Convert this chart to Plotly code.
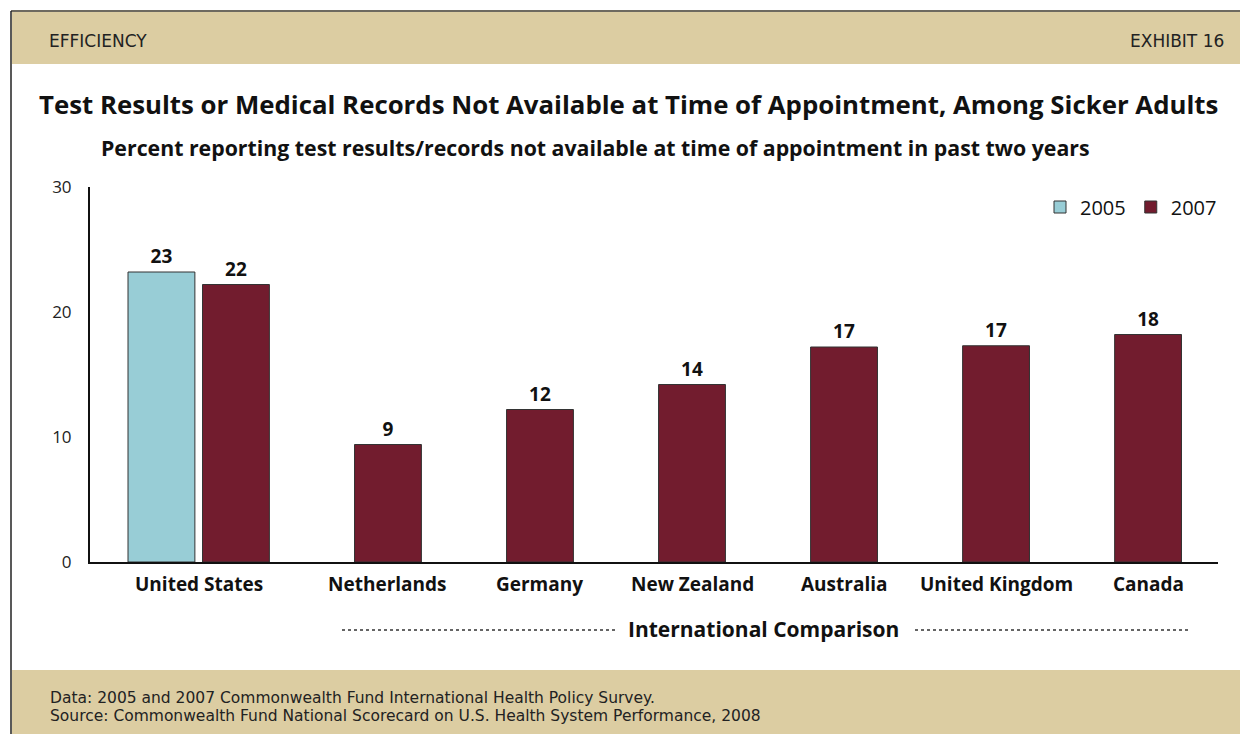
import plotly.graph_objects as go

# chart data
countries = ["United States", "Netherlands", "Germany", "New Zealand",
             "Australia", "United Kingdom", "Canada"]
values_2007 = [22.2, 9.4, 12.2, 14.2, 17.2, 17.3, 18.2]
us_2005 = [23.2]
y_ticks = [0, 10, 20, 30]

# the page puts the figure 8px in from the corner, so lay out in
# screen pixels and shift back by that amount
OFF = 8
W, H = 1248 - OFF, 734 - OFF
L, R, T, B = 90, 1218, 187, 562   # plot area, screen pixels
BLUE = "#98cdd6"
MAROON = "#721c2e"
TAN = "#dccda2"
FONT = "Open Sans"


def px(x):
    return (x - L) / (R - L)


def py(y):
    return (B - y) / (B - T)


label_font = dict(family=FONT, size=19, color="#111", weight="bold")

fig = go.Figure()
fig.add_trace(go.Bar(
    x=countries[:1], y=us_2005, name="2005",
    marker=dict(color=BLUE, line=dict(color="#333", width=1)),
    width=0.44, offset=-0.71,
    texttemplate="%{y:.0f}", textposition="outside",
    textfont=label_font, cliponaxis=False,
))
fig.add_trace(go.Bar(
    x=countries, y=values_2007, name="2007",
    marker=dict(color=MAROON, line=dict(color="#333", width=1)),
    width=0.44, offset=-0.22,
    texttemplate="%{y:.0f}", textposition="outside",
    textfont=label_font, cliponaxis=False,
))

shapes = [
    # header and footer bands
    dict(type="rect", xref="paper", yref="paper", layer="below",
         x0=px(12), x1=px(1260), y0=py(64), y1=py(12),
         fillcolor=TAN, line=dict(width=0)),
    dict(type="rect", xref="paper", yref="paper", layer="below",
         x0=px(12), x1=px(1260), y0=py(745), y1=py(670),
         fillcolor=TAN, line=dict(width=0)),
    # frame lines
    dict(type="line", xref="paper", yref="paper",
         x0=px(11), x1=px(1260), y0=py(11), y1=py(11),
         line=dict(color="#6e6a60", width=2)),
    dict(type="line", xref="paper", yref="paper",
         x0=px(11), x1=px(11), y0=py(11), y1=py(745),
         line=dict(color="#222", width=1.5)),
    # dotted bracket
    dict(type="line", xref="paper", yref="paper",
         x0=px(342), x1=px(617), y0=py(630), y1=py(630),
         line=dict(color="#333", width=1.5, dash="dot")),
    dict(type="line", xref="paper", yref="paper",
         x0=px(915), x1=px(1190), y0=py(630), y1=py(630),
         line=dict(color="#333", width=1.5, dash="dot")),
]

annotations = [
    dict(text="EFFICIENCY", x=px(47), y=py(41), xanchor="left",
         font=dict(family="DejaVu Sans", size=17, color="#222")),
    dict(text="EXHIBIT 16", x=px(1226), y=py(41), xanchor="right",
         font=dict(family="DejaVu Sans", size=17, color="#222")),
    dict(text="Test Results or Medical Records Not Available at Time of Appointment, Among Sicker Adults",
         x=px(628), y=py(104), xanchor="center",
         font=dict(family=FONT, size=25.8, color="#111", weight="bold")),
    dict(text="Percent reporting test results/records not available at time of appointment in past two years",
         x=px(595), y=py(147), xanchor="center",
         font=dict(family=FONT, size=21.3, color="#111", weight="bold")),
    dict(text="International Comparison", x=px(764), y=py(629), xanchor="center",
         font=dict(family=FONT, size=21, color="#111", weight="bold")),
    dict(text="Data: 2005 and 2007 Commonwealth Fund International Health Policy Survey.",
         x=px(48), y=py(698), xanchor="left",
         font=dict(family="DejaVu Sans", size=15.5, color="#222")),
    dict(text="Source: Commonwealth Fund National Scorecard on U.S. Health System Performance, 2008",
         x=px(48), y=py(716), xanchor="left",
         font=dict(family="DejaVu Sans", size=15.5, color="#222")),
]
for i, c in enumerate(countries):
    annotations.append(dict(
        text=c, x=c, xref="x", y=py(584), xanchor="center",
        xshift=-37 if i == 0 else 0, font=label_font,
    ))
for a in annotations:
    a.setdefault("xref", "paper")
    a.setdefault("yref", "paper")
    a.setdefault("yanchor", "middle")
    a["showarrow"] = False

fig.update_layout(
    width=W, height=H,
    margin=dict(l=L - OFF, r=W - (R - OFF), t=T - OFF, b=H - (B - OFF), pad=0),
    paper_bgcolor="white", plot_bgcolor="white",
    barmode="overlay",
    showlegend=True,
    legend=dict(orientation="h", x=px(1222), xanchor="right", y=py(207),
                yanchor="middle", font=dict(family=FONT, size=20, color="#111"),
                itemwidth=30, bgcolor="rgba(0,0,0,0)"),
    xaxis=dict(range=[-0.96, 6.46], showticklabels=False, ticks="",
               showline=True, linecolor="#111", linewidth=2, showgrid=False,
               zeroline=False, fixedrange=True),
    yaxis=dict(range=[0, 30], tickvals=y_ticks, ticks="", showgrid=False,
               showline=True, linecolor="#111", linewidth=2, zeroline=False,
               ticklabelstandoff=13,
               tickfont=dict(family=FONT, size=17, color="#222")),
    shapes=shapes,
    annotations=annotations,
)

fig.write_html("out.html")
